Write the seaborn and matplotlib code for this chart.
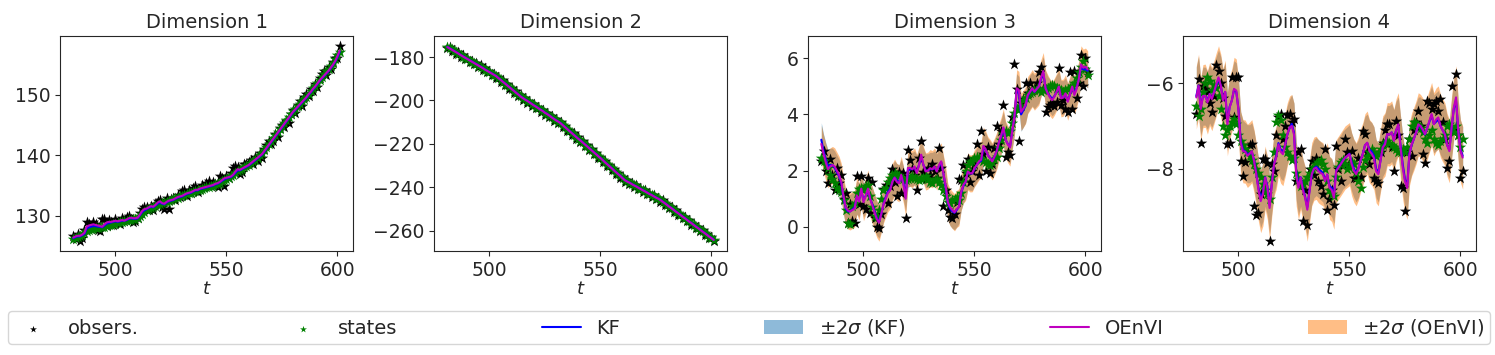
import numpy as np
import matplotlib
matplotlib.use("Agg")
import matplotlib.pyplot as plt
import seaborn as sns

# time index shared by all four dimensions
t = list(range(481, 602))

# ---- Dimension 1 ----
obs_dim1 = [126.6, 126.1, 127.0, 125.9, 126.4, 127.6, 128.9, 128.6, 127.9, 128.9,
            128.7, 127.6, 127.5, 129.4, 129.5, 128.3, 129.3, 129.0, 128.5, 129.5,
            129.0, 128.6, 129.6, 129.2, 129.8, 129.9, 129.4, 128.9, 129.2, 129.6,
            130.5, 131.2, 131.4, 131.5, 130.9, 131.7, 131.0, 132.0, 132.5, 132.6,
            131.4, 131.2, 132.9, 131.1, 132.8, 133.0, 132.6, 133.5, 133.1, 134.1,
            134.2, 133.2, 134.3, 133.8, 134.6, 134.9, 134.0, 134.4, 135.1, 134.8,
            135.5, 135.8, 134.9, 135.6, 135.2, 134.7, 136.6, 136.3, 135.0, 136.5,
            136.3, 137.0, 137.9, 138.3, 138.1, 136.9, 137.3, 138.6, 138.5, 138.9,
            139.2, 138.6, 139.8, 139.1, 140.3, 139.6, 141.0, 141.7, 142.4, 141.8,
            142.3, 143.6, 143.1, 144.5, 145.0, 144.6, 145.7, 145.3, 146.9, 147.5,
            147.0, 148.3, 148.9, 148.2, 149.6, 150.2, 149.8, 150.9, 150.6, 151.8,
            151.3, 152.8, 153.4, 153.9, 153.2, 154.6, 154.2, 155.4, 156.1, 156.0,
            158.1]
states_dim1 = [126.2, 126.3, 126.5, 126.6, 126.8, 127.1, 127.5, 127.7, 127.8, 127.9,
               128.0, 128.0, 128.1, 128.1, 128.2, 128.3, 128.4, 128.5, 128.6, 128.7,
               128.8, 128.9, 129.0, 129.1, 129.2, 129.3, 129.3, 129.4, 129.5, 129.6,
               129.9, 130.3, 130.6, 130.9, 131.1, 131.3, 131.4, 131.6, 131.8, 132.0,
               132.1, 132.2, 132.3, 132.4, 132.6, 132.7, 132.9, 133.0, 133.2, 133.3,
               133.4, 133.6, 133.7, 133.8, 134.0, 134.1, 134.2, 134.3, 134.5, 134.6,
               134.7, 134.8, 134.9, 135.0, 135.2, 135.3, 135.5, 135.7, 135.9, 136.1,
               136.3, 136.5, 136.8, 137.1, 137.4, 137.6, 137.8, 138.0, 138.2, 138.4,
               138.7, 139.0, 139.3, 139.6, 140.0, 140.4, 140.8, 141.3, 141.8, 142.3,
               142.8, 143.3, 143.8, 144.3, 144.8, 145.3, 145.8, 146.3, 146.8, 147.3,
               147.7, 148.1, 148.5, 148.9, 149.3, 149.7, 150.1, 150.6, 151.1, 151.5,
               152.0, 152.5, 153.0, 153.4, 153.9, 154.3, 154.8, 155.3, 155.9, 156.5,
               157.0]
kf_dim1 = [126.3, 126.5, 126.6, 126.6, 126.8, 127.0, 127.9, 128.1, 128.2, 128.3,
           128.3, 128.2, 128.2, 128.1, 128.4, 128.7, 128.8, 128.9, 129.0, 129.1,
           129.0, 129.1, 129.2, 129.2, 129.3, 129.5, 129.6, 129.5, 129.5, 129.6,
           130.1, 130.6, 130.9, 131.1, 131.3, 131.5, 131.4, 131.7, 132.0, 132.2,
           132.0, 131.9, 132.2, 132.4, 132.5, 132.6, 132.8, 133.0, 133.1, 133.2,
           133.4, 133.6, 133.7, 133.8, 134.0, 134.2, 134.2, 134.4, 134.5, 134.6,
           134.7, 134.8, 134.9, 135.0, 135.2, 135.3, 135.5, 135.8, 136.0, 136.2,
           136.3, 136.4, 136.7, 137.1, 137.5, 137.5, 137.7, 137.9, 138.1, 138.3,
           138.6, 138.9, 139.2, 139.5, 139.8, 140.1, 140.6, 141.1, 141.6, 142.1,
           142.6, 143.1, 143.6, 144.1, 144.6, 145.1, 145.6, 146.1, 146.6, 147.1,
           147.5, 147.9, 148.3, 148.7, 149.1, 149.5, 150.0, 150.4, 150.9, 151.3,
           151.8, 152.3, 152.7, 153.1, 153.5, 153.9, 154.4, 154.9, 155.5, 156.2,
           157.1]
oenvi_dim1 = [126.4, 126.6, 126.7, 126.7, 126.9, 127.2, 128.2, 128.4, 128.5, 128.6,
              128.5, 128.4, 128.3, 128.2, 128.6, 128.9, 129.0, 129.0, 129.1, 129.2,
              129.1, 129.2, 129.3, 129.2, 129.4, 129.6, 129.7, 129.6, 129.6, 129.7,
              130.2, 130.8, 131.1, 131.2, 131.4, 131.6, 131.5, 131.8, 132.2, 132.4,
              132.1, 132.0, 132.3, 132.5, 132.6, 132.7, 132.9, 133.1, 133.2, 133.3,
              133.5, 133.7, 133.8, 133.9, 134.1, 134.3, 134.3, 134.5, 134.6, 134.7,
              134.8, 134.9, 135.0, 135.1, 135.3, 135.4, 135.6, 135.9, 136.2, 136.3,
              136.4, 136.5, 136.8, 137.3, 137.7, 137.6, 137.8, 138.0, 138.2, 138.4,
              138.7, 139.0, 139.3, 139.6, 139.9, 140.2, 140.7, 141.2, 141.7, 142.2,
              142.7, 143.2, 143.7, 144.2, 144.7, 145.2, 145.7, 146.2, 146.7, 147.2,
              147.6, 148.0, 148.4, 148.8, 149.2, 149.6, 150.1, 150.5, 151.0, 151.4,
              151.9, 152.4, 152.8, 153.2, 153.6, 154.0, 154.5, 155.0, 155.6, 156.4,
              157.3]

# ---- Dimension 2 ----
obs_dim2 = [-175.9, -175.3, -177.2, -176.8, -178.5, -177.9, -179.8, -179.2, -181.0, -180.3,
            -182.2, -181.7, -183.3, -182.9, -184.7, -183.8, -185.9, -185.2, -187.0, -186.5,
            -188.3, -187.6, -189.6, -189.0, -191.3, -190.8, -193.0, -192.5, -194.7, -194.1,
            -196.4, -195.8, -198.1, -197.5, -199.7, -199.0, -201.0, -200.3, -202.4, -201.7,
            -203.7, -203.0, -205.1, -204.3, -206.5, -205.7, -207.8, -207.2, -209.3, -208.6,
            -210.6, -209.9, -212.2, -211.6, -214.0, -213.4, -215.8, -215.2, -217.6, -217.0,
            -219.3, -218.7, -221.1, -220.5, -222.9, -222.3, -224.7, -224.1, -226.5, -225.9,
            -228.3, -227.8, -230.2, -229.7, -232.0, -231.5, -233.9, -233.3, -235.7, -235.1,
            -237.6, -236.8, -238.7, -237.9, -239.8, -239.0, -240.9, -240.2, -242.2, -241.4,
            -243.2, -242.6, -244.3, -243.6, -245.5, -244.8, -246.6, -246.1, -248.1, -247.6,
            -249.7, -249.1, -251.2, -250.7, -252.7, -252.2, -254.3, -253.7, -255.8, -255.3,
            -257.3, -256.8, -258.9, -258.3, -260.4, -259.9, -261.9, -261.4, -263.5, -263.0,
            -264.9]
states_dim2 = [-175.2, -175.9, -176.5, -177.3, -177.9, -178.5, -179.0, -179.8, -180.4, -180.8,
               -181.6, -182.2, -182.6, -183.4, -184.0, -184.4, -185.2, -185.9, -186.3, -187.1,
               -187.7, -188.1, -188.9, -189.6, -190.6, -191.3, -192.3, -193.0, -194.0, -194.7,
               -195.7, -196.4, -197.4, -198.1, -199.0, -199.5, -200.3, -200.8, -201.7, -202.2,
               -203.0, -203.5, -204.4, -204.8, -205.8, -206.2, -207.1, -207.7, -208.6, -209.1,
               -209.9, -210.4, -211.5, -212.2, -213.3, -214.0, -215.1, -215.8, -216.9, -217.6,
               -218.6, -219.3, -220.4, -221.1, -222.2, -222.9, -224.0, -224.7, -225.8, -226.5,
               -227.6, -228.4, -229.5, -230.2, -231.3, -232.1, -233.2, -233.9, -235.0, -235.8,
               -236.9, -237.3, -238.0, -238.4, -239.2, -239.5, -240.3, -240.7, -241.5, -241.8,
               -242.6, -243.0, -243.7, -244.1, -244.9, -245.2, -246.0, -246.6, -247.5, -248.1,
               -249.1, -249.6, -250.6, -251.2, -252.1, -252.7, -253.7, -254.2, -255.2, -255.8,
               -256.7, -257.3, -258.3, -258.8, -259.8, -260.4, -261.3, -261.9, -262.9, -263.4,
               -264.4]
kf_dim2 = [-175.3, -175.9, -176.5, -177.1, -177.7, -178.3, -179.0, -179.6, -180.2, -180.8,
           -181.4, -182.0, -182.6, -183.2, -183.8, -184.4, -185.0, -185.7, -186.3, -186.9,
           -187.5, -188.1, -188.7, -189.6, -190.4, -191.3, -192.1, -193.0, -193.8, -194.7,
           -195.5, -196.4, -197.2, -198.1, -198.8, -199.5, -200.1, -200.8, -201.5, -202.2,
           -202.8, -203.5, -204.2, -204.8, -205.6, -206.2, -206.9, -207.7, -208.4, -209.1,
           -209.7, -210.4, -211.3, -212.2, -213.1, -214.0, -214.9, -215.8, -216.7, -217.6,
           -218.4, -219.3, -220.2, -221.1, -222.0, -222.9, -223.8, -224.7, -225.6, -226.5,
           -227.4, -228.4, -229.3, -230.2, -231.1, -232.1, -233.0, -233.9, -234.8, -235.8,
           -236.7, -237.3, -237.8, -238.4, -239.0, -239.5, -240.1, -240.7, -241.3, -241.8,
           -242.4, -243.0, -243.5, -244.1, -244.7, -245.2, -245.8, -246.6, -247.3, -248.1,
           -248.9, -249.6, -250.4, -251.2, -251.9, -252.7, -253.5, -254.2, -255.0, -255.8,
           -256.5, -257.3, -258.1, -258.8, -259.6, -260.4, -261.1, -261.9, -262.7, -263.4,
           -264.2]
oenvi_dim2 = [-175.4, -176.0, -176.6, -177.2, -177.8, -178.4, -179.1, -179.7, -180.3, -180.9,
              -181.5, -182.1, -182.7, -183.3, -183.9, -184.5, -185.1, -185.8, -186.4, -187.0,
              -187.6, -188.2, -188.8, -189.7, -190.5, -191.4, -192.2, -193.1, -193.9, -194.8,
              -195.6, -196.5, -197.3, -198.2, -198.9, -199.6, -200.2, -200.9, -201.6, -202.3,
              -202.9, -203.6, -204.3, -204.9, -205.7, -206.3, -207.0, -207.8, -208.5, -209.2,
              -209.8, -210.5, -211.4, -212.3, -213.2, -214.1, -215.0, -215.9, -216.8, -217.7,
              -218.5, -219.4, -220.3, -221.2, -222.1, -223.0, -223.9, -224.8, -225.7, -226.6,
              -227.5, -228.5, -229.4, -230.3, -231.2, -232.2, -233.1, -234.0, -234.9, -235.9,
              -236.8, -237.4, -237.9, -238.5, -239.1, -239.6, -240.2, -240.8, -241.4, -241.9,
              -242.5, -243.1, -243.6, -244.2, -244.8, -245.3, -245.9, -246.7, -247.4, -248.2,
              -249.0, -249.7, -250.5, -251.3, -252.0, -252.8, -253.6, -254.3, -255.1, -255.9,
              -256.6, -257.4, -258.2, -258.9, -259.7, -260.5, -261.2, -262.0, -262.8, -263.5,
              -264.3]

# ---- Dimension 3 ----
obs_dim3 = [2.35, 2.7, 2.0, 1.55, 2.4, 1.85, 1.3, 2.1, 1.55, 1.85,
            1.0, 1.2, 0.15, 0.8, 0.2, 0.15, 1.8, 0.8, 1.8, 0.75,
            0.65, 1.75, 0.5, 1.6, 0.3, 0.0, -0.05, 0.45, 1.35, 1.5,
            0.85, 1.45, 2.05, 1.6, 1.1, 1.95, 1.2, 1.9, 0.3, 2.75,
            2.39, 2.05, 1.85, 1.3, 2.45, 3.05, 1.95, 1.7, 2.1, 1.85,
            2.25, 2.0, 1.75, 2.8, 2.1, 0.76, 1.3, 0.6, 0.34, 0.3,
            0.45, 0.9, 1.7, 1.65, 2.2, 1.9, 2.4, 1.6, 2.0, 2.25,
            2.95, 1.85, 3.4, 2.6, 2.0, 2.85, 1.9, 2.25, 2.8, 3.6,
            2.95, 3.4, 4.35, 2.5, 2.65, 2.55, 3.9, 5.8, 4.9, 3.05,
            4.4, 4.55, 5.1, 4.75, 5.1, 4.85, 4.9, 5.1, 5.5, 5.7,
            4.9, 4.1, 4.25, 4.35, 4.4, 4.3, 4.45, 5.65, 4.35, 4.5,
            4.2, 4.1, 5.5, 4.2, 5.55, 4.6, 5.1, 6.1, 5.0, 6.0,
            5.5]
states_dim3 = [2.45, 2.35, 2.2, 2.1, 1.85, 1.7, 1.55, 1.4, 1.3, 1.24,
               0.95, 0.6, 0.15, 0.1, 0.75, 0.85, 1.2, 1.35, 1.4, 1.3,
               1.45, 1.5, 1.1, 0.7, 0.4, 0.35, 0.6, 1.0, 1.3, 1.4,
               1.6, 1.75, 1.85, 1.9, 1.85, 1.8, 1.75, 1.7, 1.65, 1.7,
               1.75, 1.8, 1.75, 1.7, 1.65, 1.7, 1.75, 1.8, 1.7, 1.6,
               1.55, 1.65, 1.7, 1.6, 1.5, 1.3, 1.1, 0.9, 0.85, 0.95,
               1.0, 1.05, 0.95, 1.2, 1.6, 2.0, 2.2, 2.3, 2.35, 2.45,
               2.5, 2.45, 2.4, 2.35, 2.3, 2.25, 2.2, 2.3, 2.4, 2.5,
               2.8, 3.1, 3.3, 3.4, 3.35, 3.4, 3.7, 4.05, 4.2, 4.25,
               4.3, 4.5, 4.6, 4.7, 4.75, 4.8, 4.85, 4.9, 4.85, 4.8,
               4.85, 4.9, 4.95, 5.0, 5.05, 5.0, 4.95, 4.9, 4.85, 4.8,
               4.85, 4.9, 4.95, 5.0, 5.1, 5.3, 5.5, 5.7, 5.9, 5.6,
               5.4]
kf_dim3 = [3.1, 2.7, 2.4, 2.15, 2.2, 2.2, 2.1, 1.95, 1.8, 1.55,
           1.05, 0.65, 0.55, 0.55, 0.62, 0.7, 1.05, 0.95, 1.3, 0.95,
           1.1, 1.3, 1.0, 0.8, 0.55, 0.3, 0.2, 0.45, 0.8, 1.05,
           1.25, 1.35, 1.6, 1.75, 1.65, 1.6, 1.8, 1.55, 1.15, 2.0,
           2.05, 2.05, 2.1, 1.95, 2.2, 2.5, 2.2, 2.0, 2.0, 2.05,
           2.05, 2.1, 2.0, 2.15, 2.3, 1.9, 1.4, 0.85, 0.65, 0.55,
           0.5, 0.6, 0.72, 1.2, 1.45, 1.6, 1.95, 1.9, 1.9, 2.05,
           2.2, 2.3, 2.35, 2.8, 2.75, 2.55, 2.45, 2.35, 2.5, 2.7,
           3.0, 3.2, 3.5, 3.1, 2.95, 2.85, 3.4, 3.9, 4.85, 4.75,
           4.0, 4.15, 4.3, 4.65, 4.8, 4.9, 4.8, 4.9, 5.0, 5.25,
           5.45, 4.95, 4.75, 4.65, 4.55, 4.65, 4.8, 4.95, 4.6, 4.6,
           4.7, 4.5, 4.7, 4.95, 4.75, 4.95, 5.25, 5.7, 5.6, 5.6,
           5.55]
oenvi_dim3 = [2.95, 2.6, 2.3, 2.05, 2.15, 2.2, 2.15, 2.0, 1.85, 1.6,
              1.1, 0.7, 0.58, 0.55, 0.6, 0.64, 1.12, 0.9, 1.36, 0.88,
              1.1, 1.36, 1.0, 0.76, 0.5, 0.28, 0.15, 0.45, 0.8, 1.0,
              1.2, 1.3, 1.6, 1.75, 1.6, 1.55, 1.85, 1.5, 1.0, 2.09,
              2.1, 2.05, 2.15, 1.91, 2.2, 2.57, 2.2, 1.97, 2.0, 2.09,
              2.05, 2.15, 1.97, 2.2, 2.33, 1.9, 1.49, 0.88, 0.7, 0.6,
              0.52, 0.64, 0.7, 1.24, 1.5, 1.6, 1.97, 1.9, 1.91, 2.09,
              2.2, 2.33, 2.39, 2.88, 2.76, 2.55, 2.45, 2.33, 2.5, 2.7,
              3.0, 3.24, 3.54, 3.1, 2.94, 2.82, 3.4, 3.91, 4.93, 4.87,
              4.09, 4.2, 4.33, 4.69, 4.8, 4.93, 4.81, 4.9, 4.99, 5.3,
              5.54, 4.93, 4.75, 4.6, 4.51, 4.63, 4.8, 4.99, 4.57, 4.6,
              4.75, 4.45, 4.7, 4.99, 4.69, 4.9, 5.24, 5.78, 5.66, 5.7,
              5.6]

# ---- Dimension 4 ----
obs_dim4 = [-6.72, -5.9, -7.39, -6.06, -6.13, -6.21, -6.45, -6.68, -6.3, -5.58,
            -5.7, -6.0, -6.35, -6.76, -7.43, -7.4, -5.86, -6.8, -5.86, -5.85,
            -7.82, -8.17, -7.85, -7.62, -7.45, -7.43, -8.88, -9.08, -9.04, -8.6,
            -7.78, -7.78, -7.86, -9.7, -7.9, -8.05, -7.2, -6.8, -6.72, -7.3,
            -7.0, -6.75, -6.72, -6.9, -6.84, -8.29, -7.6, -7.55, -9.23, -8.5,
            -9.31, -8.0, -7.82, -8.15, -7.75, -8.3, -8.4, -8.6, -7.55, -8.96,
            -8.7, -8.5, -8.84, -7.47, -8.0, -8.29, -7.9, -7.31, -7.6, -7.9,
            -7.59, -8.21, -8.21, -7.74, -8.2, -7.11, -7.19, -7.6, -7.9, -7.7,
            -8.21, -8.29, -8.33, -7.6, -7.4, -7.1, -6.96, -6.96, -7.5, -8.06,
            -6.88, -7.2, -8.41, -8.45, -9.0, -7.6, -7.3, -7.7, -7.1, -6.9,
            -6.64, -7.0, -7.66, -7.86, -6.41, -6.45, -6.6, -6.49, -6.41, -6.64,
            -6.37, -6.9, -7.3, -7.98, -7.82, -6.06, -7.1, -5.78, -7.2, -8.21,
            -8.06]
states_dim4 = [-6.53, -6.76, -6.6, -6.2, -6.0, -5.85, -5.95, -6.15, -6.05, -6.1,
               -6.3, -6.6, -7.0, -7.2, -7.1, -7.0, -6.9, -6.84, -6.95, -7.2,
               -7.35, -7.45, -7.55, -7.6, -7.7, -7.8, -7.9, -8.0, -8.1, -8.2,
               -8.35, -8.5, -8.6, -8.7, -8.2, -7.6, -6.9, -6.75, -6.85, -7.2,
               -7.5, -7.6, -7.7, -7.8, -7.75, -8.1, -8.25, -8.4, -8.35, -8.3,
               -8.2, -8.1, -8.0, -7.95, -7.9, -7.85, -7.8, -7.9, -8.0, -8.3,
               -8.5, -8.6, -8.65, -8.2, -7.95, -7.85, -7.8, -7.9, -8.0, -7.95,
               -7.85, -7.9, -8.1, -8.3, -8.45, -7.95, -7.8, -7.7, -7.6, -7.55,
               -7.6, -7.7, -7.65, -7.55, -7.45, -7.4, -7.35, -7.4, -7.45, -7.5,
               -7.55, -7.6, -7.6, -7.55, -7.6, -7.5, -7.3, -7.0, -6.9, -6.95,
               -7.0, -7.05, -7.15, -7.3, -7.4, -7.2, -7.1, -7.3, -7.4, -7.45,
               -7.35, -7.3, -7.2, -7.0, -6.95, -7.05, -7.15, -7.0, -7.2, -7.5,
               -7.3]
kf_dim4 = [-6.3, -6.05, -6.55, -6.3, -6.3, -6.4, -6.25, -6.35, -6.2, -6.05,
           -5.9, -6.05, -6.35, -6.2, -6.9, -6.55, -6.4, -6.15, -6.2, -6.6,
           -7.35, -7.55, -7.6, -7.65, -7.65, -7.6, -7.8, -8.1, -8.45, -8.7,
           -8.55, -8.2, -8.4, -8.85, -8.35, -7.9, -7.7, -7.4, -7.55, -7.6,
           -7.45, -7.2, -7.05, -6.95, -7.15, -8.05, -8.4, -8.2, -8.45, -8.65,
           -8.9, -8.5, -8.15, -8.0, -7.95, -8.0, -8.05, -8.1, -8.25, -8.15,
           -8.4, -8.45, -8.6, -8.05, -7.95, -7.9, -7.8, -7.75, -7.7, -7.65,
           -7.85, -8.0, -8.1, -8.0, -7.8, -7.65, -7.45, -7.4, -7.55, -7.6,
           -7.7, -8.0, -8.1, -7.8, -7.5, -7.4, -7.2, -7.2, -7.15, -7.3,
           -7.1, -7.0, -7.45, -7.9, -8.25, -8.4, -7.65, -7.45, -7.3, -7.15,
           -7.0, -7.0, -7.1, -7.2, -7.05, -6.9, -6.75, -6.95, -6.9, -6.85,
           -7.0, -7.1, -7.2, -7.45, -7.55, -7.05, -6.6, -6.4, -7.1, -7.55,
           -7.7]
oenvi_dim4 = [-6.33, -6.06, -6.6, -6.3, -6.29, -6.45, -6.25, -6.37, -6.2, -6.02,
              -5.86, -6.05, -6.4, -6.2, -6.96, -6.57, -6.4, -6.13, -6.17, -6.64,
              -7.4, -7.59, -7.6, -7.7, -7.65, -7.59, -7.82, -8.13, -8.5, -8.76,
              -8.6, -8.21, -8.45, -8.92, -8.37, -7.9, -7.74, -7.43, -7.6, -7.66,
              -7.45, -7.19, -7.04, -7.0, -7.2, -8.13, -8.45, -8.21, -8.5, -8.68,
              -8.96, -8.53, -8.13, -8.0, -7.98, -8.06, -8.1, -8.13, -8.29, -8.13,
              -8.45, -8.5, -8.68, -8.06, -7.98, -7.9, -7.82, -7.74, -7.7, -7.66,
              -7.9, -8.05, -8.13, -8.0, -7.8, -7.66, -7.45, -7.39, -7.59, -7.65,
              -7.75, -8.06, -8.13, -7.8, -7.5, -7.43, -7.19, -7.2, -7.15, -7.35,
              -7.1, -6.96, -7.5, -7.98, -8.3, -8.45, -7.66, -7.43, -7.3, -7.15,
              -6.96, -7.0, -7.08, -7.19, -7.05, -6.88, -6.72, -6.96, -6.85, -6.8,
              -7.0, -7.1, -7.2, -7.45, -7.59, -7.04, -6.57, -6.33, -7.11, -7.59,
              -7.74]

# posterior std of each filter, one value per dimension
sigma_kf = [0.25, 0.25, 0.30, 0.34]
sigma_oenvi = [0.27, 0.27, 0.33, 0.37]

titles = ['Dimension 1', 'Dimension 2', 'Dimension 3', 'Dimension 4']


def draw_dim(ax, obs, states, kf, s_kf, oenvi, s_oenvi, title):
    kf = np.array(kf)
    oenvi = np.array(oenvi)
    sns.scatterplot(x=t, y=obs, ax=ax, marker='*', color='k', s=75,
                    linewidth=0, zorder=2, label='obsers.')
    sns.scatterplot(x=t, y=states, ax=ax, marker='*', color='g', s=75,
                    linewidth=0, zorder=2, label='states')
    sns.lineplot(x=t, y=kf, ax=ax, color='b', lw=1.5, zorder=3, label='KF')
    ax.fill_between(t, kf - 2 * s_kf, kf + 2 * s_kf, color='C0', alpha=0.5,
                    lw=0, zorder=1, label=r'$\pm2\sigma$ (KF)')
    sns.lineplot(x=t, y=oenvi, ax=ax, color='m', lw=1.5, zorder=3, label='OEnVI')
    ax.fill_between(t, oenvi - 2 * s_oenvi, oenvi + 2 * s_oenvi, color='C1',
                    alpha=0.5, lw=0, zorder=1, label=r'$\pm2\sigma$ (OEnVI)')
    if ax.get_legend() is not None:
        ax.get_legend().remove()
    ax.set_title(title, fontsize=14, pad=6)
    ax.set_xlabel('$t$', fontsize=13, labelpad=0)
    ax.set_ylabel('')
    ax.set_xticks([500, 550, 600])
    ax.tick_params(labelsize=13.5)


sns.set_style('ticks')
plt.rcParams['font.family'] = ['DejaVu Sans']

fig = plt.figure(figsize=(14.95, 3.55), dpi=100)
W, H = 1495, 355
lefts = [60, 434, 808, 1183]
axes = [fig.add_axes([l / W, (H - 251) / H, 293 / W, 215 / H]) for l in lefts]

data = [
    (obs_dim1, states_dim1, kf_dim1, oenvi_dim1),
    (obs_dim2, states_dim2, kf_dim2, oenvi_dim2),
    (obs_dim3, states_dim3, kf_dim3, oenvi_dim3),
    (obs_dim4, states_dim4, kf_dim4, oenvi_dim4),
]
for i, ax in enumerate(axes):
    o, s, k, m = data[i]
    draw_dim(ax, o, s, k, sigma_kf[i], m, sigma_oenvi[i], titles[i])

handles, labels = axes[0].get_legend_handles_labels()
fig.legend(handles, labels, loc='lower left', ncol=6, mode='expand',
           bbox_to_anchor=(8 / W, 11 / H, 1482 / W, 34 / H), borderaxespad=0,
           fontsize=14, borderpad=0.3, handlelength=2.0, markerscale=0.6)

fig.savefig('out.png', dpi=100)
